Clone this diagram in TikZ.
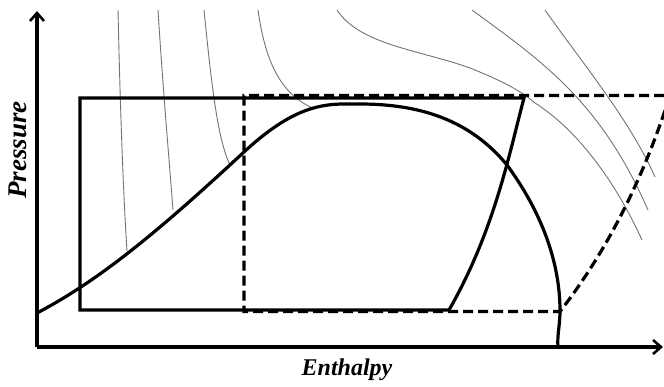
\documentclass[tikz,border=0pt]{standalone}
\usepackage{fontspec}
\setmainfont{Liberation Serif}
\usetikzlibrary{arrows.meta}
\begin{document}
\begin{tikzpicture}[x=1pt,y=-1pt,
  thickline/.style={line width=3.2pt,line join=miter},
  dashline/.style={line width=3.2pt,dash pattern=on 10pt off 5pt},
  isoline/.style={line width=0.9pt,draw=black!55},
  axis/.style={line width=3.2pt,-{Straight Barb[length=8pt,width=14pt,line width=2.6pt]}},
  ylbl/.style={font=\fontsize{27}{30}\selectfont\bfseries\itshape},
  xlbl/.style={font=\fontsize{24}{27}\selectfont\bfseries\itshape}]
\useasboundingbox (0,0) rectangle (664,386);
\begin{scope}
\clip (0,0) rectangle (664,386);
% isotherms / isentropes
\draw[isoline] (118,10) .. controls (120,100) and (123,190) .. (127,251);
\draw[isoline] (158,10) .. controls (163,90) and (170,170) .. (173,210);
\draw[isoline] (204,10) .. controls (212,90) and (218,140) .. (230,165);
\draw[isoline] (258,10) .. controls (265,60) and (280,95) .. (315,109);
\draw[isoline] (337,10) .. controls (360,45) and (420,50) .. (470,68)
  .. controls (500,80) and (520,90) .. (535,103)
  .. controls (570,125) and (610,170) .. (642,240);
\draw[isoline] (472,10) .. controls (540,60) and (600,100) .. (648,210);
\draw[isoline] (545,10) .. controls (580,60) and (630,120) .. (655,177);
% saturation dome
\draw[thickline] (37,313) .. controls (100,280) and (160,230) .. (244,152)
  .. controls (300,100) and (330,104) .. (360,104)
  .. controls (420,104) and (470,120) .. (507,165)
  .. controls (540,210) and (560,260) .. (560,311)
  .. controls (560,325) and (557,335) .. (558,347);
% solid cycle
\draw[thickline] (449,310) -- (80,310) -- (80,98) -- (524,98)
  .. controls (510,150) and (495,230) .. (449,310);
% dashed cycle
\draw[dashline] (664,95.5) -- (244,95.5) -- (244,311.5) -- (560,311.5)
  .. controls (600,260) and (640,190) .. (670,95);
\end{scope}
% axes
\coordinate (o) at (37,347);
\coordinate (ytip) at (37,11);
\coordinate (xtip) at (663,347);
\draw[axis] (o) -- (ytip);
\draw[axis] (o) -- (xtip);
\node[ylbl,rotate=90] (ylab) at (18,150) {Pressure};
\node[xlbl] (xlab) at (347,370) {Enthalpy};
\end{tikzpicture}
\end{document}
